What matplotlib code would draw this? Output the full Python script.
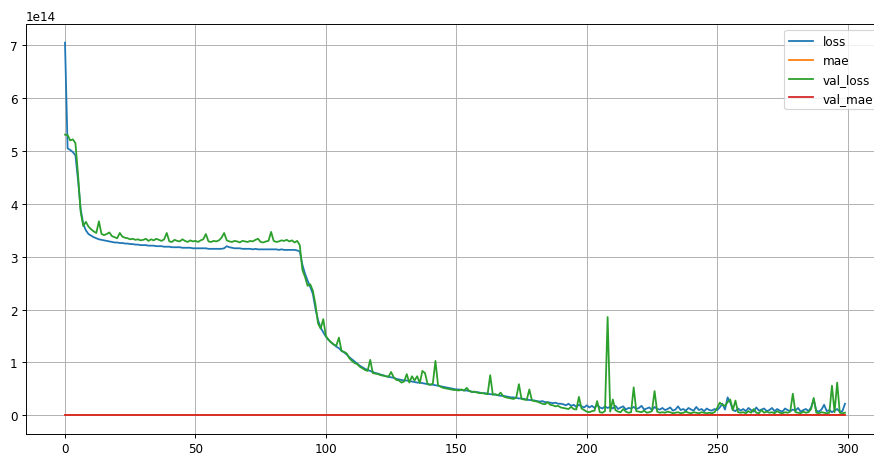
import numpy as np
import matplotlib.pyplot as plt

# training history, loss values in units of 1e14
loss = [
    7.05, 5.05, 5.02, 4.98, 4.92, 4.45, 3.90, 3.62, 3.50, 3.43,
    3.40, 3.37, 3.35, 3.33, 3.32, 3.31, 3.30, 3.29, 3.28, 3.27,
    3.27, 3.26, 3.26, 3.25, 3.25, 3.24, 3.24, 3.23, 3.23, 3.22,
    3.22, 3.22, 3.21, 3.21, 3.21, 3.20, 3.20, 3.20, 3.19, 3.19,
    3.19, 3.18, 3.18, 3.18, 3.18, 3.17, 3.17, 3.17, 3.17, 3.16,
    3.16, 3.16, 3.16, 3.16, 3.16, 3.15, 3.15, 3.15, 3.15, 3.15,
    3.15, 3.16, 3.20, 3.18, 3.17, 3.16, 3.16, 3.16, 3.15, 3.15,
    3.15, 3.15, 3.14, 3.15, 3.14, 3.14, 3.14, 3.14, 3.14, 3.14,
    3.14, 3.14, 3.13, 3.14, 3.13, 3.13, 3.13, 3.13, 3.13, 3.12,
    3.10, 2.85, 2.68, 2.55, 2.43, 2.30, 2.02, 1.80, 1.66, 1.57,
    1.49, 1.43, 1.38, 1.34, 1.30, 1.27, 1.22, 1.19, 1.15, 1.10,
    1.06, 1.02, 0.98, 0.94, 0.91, 0.88, 0.86, 0.84, 0.82, 0.80,
    0.79, 0.77, 0.76, 0.74, 0.73, 0.72, 0.71, 0.69, 0.68, 0.67,
    0.66, 0.66, 0.65, 0.64, 0.63, 0.62, 0.62, 0.61, 0.60, 0.59,
    0.58, 0.58, 0.57, 0.56, 0.55, 0.54, 0.53, 0.52, 0.51, 0.50,
    0.49, 0.49, 0.48, 0.47, 0.47, 0.46, 0.45, 0.44, 0.44, 0.43,
    0.42, 0.42, 0.41, 0.40, 0.40, 0.39, 0.38, 0.37, 0.37, 0.36,
    0.35, 0.34, 0.34, 0.33, 0.32, 0.32, 0.31, 0.30, 0.29, 0.29,
    0.28, 0.27, 0.26, 0.27, 0.25, 0.25, 0.24, 0.23, 0.24, 0.22,
    0.22, 0.21, 0.19, 0.22, 0.18, 0.20, 0.16, 0.20, 0.17, 0.15,
    0.19, 0.15, 0.18, 0.14, 0.20, 0.15, 0.13, 0.17, 0.14, 0.16,
    0.13, 0.18, 0.12, 0.15, 0.17, 0.11, 0.14, 0.13, 0.16, 0.12,
    0.14, 0.18, 0.11, 0.13, 0.15, 0.10, 0.16, 0.12, 0.11, 0.14,
    0.10, 0.12, 0.15, 0.09, 0.11, 0.17, 0.10, 0.12, 0.09, 0.14,
    0.11, 0.09, 0.16, 0.10, 0.12, 0.08, 0.13, 0.10, 0.09, 0.12,
    0.10, 0.15, 0.22, 0.11, 0.34, 0.25, 0.10, 0.08, 0.13, 0.09,
    0.12, 0.08, 0.14, 0.10, 0.07, 0.15, 0.09, 0.11, 0.13, 0.08,
    0.10, 0.14, 0.08, 0.12, 0.09, 0.07, 0.13, 0.10, 0.08, 0.11,
    0.09, 0.14, 0.07, 0.10, 0.12, 0.08, 0.15, 0.30, 0.09, 0.07,
    0.11, 0.20, 0.08, 0.10, 0.06, 0.09, 0.12, 0.07, 0.08, 0.22,
]

val_loss = [
    5.31, 5.30, 5.20, 5.22, 5.15, 4.55, 3.85, 3.58, 3.66, 3.57,
    3.52, 3.48, 3.45, 3.67, 3.43, 3.41, 3.43, 3.46, 3.39, 3.37,
    3.35, 3.45, 3.38, 3.36, 3.35, 3.33, 3.34, 3.32, 3.33, 3.31,
    3.32, 3.34, 3.30, 3.33, 3.31, 3.34, 3.32, 3.30, 3.33, 3.45,
    3.29, 3.28, 3.32, 3.30, 3.29, 3.33, 3.30, 3.28, 3.31, 3.29,
    3.30, 3.28, 3.31, 3.33, 3.43, 3.29, 3.28, 3.30, 3.29, 3.31,
    3.36, 3.45, 3.31, 3.29, 3.28, 3.30, 3.29, 3.27, 3.30, 3.29,
    3.28, 3.30, 3.29, 3.32, 3.34, 3.28, 3.27, 3.29, 3.30, 3.47,
    3.30, 3.28, 3.29, 3.31, 3.30, 3.32, 3.29, 3.31, 3.27, 3.30,
    3.22, 2.75, 2.62, 2.45, 2.48, 2.36, 2.10, 1.74, 1.64, 1.82,
    1.50, 1.43, 1.38, 1.34, 1.32, 1.47, 1.22, 1.20, 1.17, 1.08,
    1.03, 0.99, 0.97, 0.92, 0.89, 0.86, 0.84, 1.05, 0.80, 0.79,
    0.78, 0.76, 0.75, 0.74, 0.73, 0.82, 0.72, 0.67, 0.66, 0.62,
    0.64, 0.78, 0.62, 0.74, 0.66, 0.74, 0.61, 0.84, 0.80, 0.59,
    0.58, 0.60, 1.03, 0.57, 0.54, 0.52, 0.51, 0.50, 0.49, 0.48,
    0.48, 0.47, 0.49, 0.47, 0.52, 0.46, 0.44, 0.45, 0.43, 0.42,
    0.42, 0.41, 0.40, 0.76, 0.39, 0.40, 0.38, 0.43, 0.36, 0.34,
    0.33, 0.32, 0.31, 0.34, 0.59, 0.31, 0.30, 0.29, 0.49, 0.28,
    0.27, 0.26, 0.24, 0.22, 0.21, 0.25, 0.20, 0.19, 0.17, 0.18,
    0.15, 0.14, 0.13, 0.12, 0.16, 0.12, 0.11, 0.35, 0.13, 0.10,
    0.07, 0.06, 0.08, 0.09, 0.27, 0.06, 0.05, 0.08, 1.86, 0.07,
    0.30, 0.10, 0.07, 0.06, 0.12, 0.07, 0.05, 0.06, 0.53, 0.08,
    0.07, 0.06, 0.09, 0.05, 0.06, 0.08, 0.46, 0.07, 0.05, 0.06,
    0.05, 0.07, 0.06, 0.04, 0.05, 0.06, 0.04, 0.05, 0.07, 0.05,
    0.04, 0.06, 0.05, 0.04, 0.06, 0.05, 0.04, 0.05, 0.04, 0.06,
    0.14, 0.24, 0.20, 0.18, 0.25, 0.30, 0.10, 0.28, 0.06, 0.05,
    0.06, 0.04, 0.08, 0.05, 0.12, 0.05, 0.04, 0.10, 0.05, 0.07,
    0.05, 0.06, 0.04, 0.08, 0.05, 0.04, 0.06, 0.05, 0.07, 0.41,
    0.06, 0.05, 0.04, 0.07, 0.05, 0.06, 0.12, 0.33, 0.05, 0.04,
    0.06, 0.05, 0.04, 0.05, 0.56, 0.06, 0.62, 0.05, 0.04, 0.05,
]

# mae values in units of 1e6 (they sit flat on zero at this scale)
mae = [
    21, 17, 17, 17, 17, 16, 15, 14, 14, 14,
    14, 14, 14, 14, 14, 14, 14, 14, 14, 14,
    14, 14, 14, 14, 14, 14, 14, 14, 14, 14,
    14, 14, 14, 14, 14, 14, 14, 14, 14, 14,
    14, 14, 14, 14, 14, 14, 14, 14, 14, 14,
    14, 14, 14, 14, 14, 14, 14, 14, 14, 14,
    14, 14, 14, 14, 14, 14, 14, 14, 14, 14,
    14, 14, 14, 14, 14, 14, 14, 14, 14, 14,
    14, 14, 14, 14, 14, 14, 14, 14, 14, 14,
    14, 13, 13, 13, 12, 12, 12, 11, 11, 11,
    10, 10, 10, 10, 10, 10, 9, 9, 9, 9,
    9, 9, 9, 8, 8, 8, 8, 8, 8, 8,
    8, 8, 8, 8, 8, 8, 8, 7, 7, 7,
    7, 7, 7, 7, 7, 7, 7, 7, 7, 7,
    7, 7, 7, 7, 7, 7, 7, 7, 6, 6,
    6, 6, 6, 6, 6, 6, 6, 6, 6, 6,
    6, 6, 6, 6, 6, 6, 6, 6, 6, 5,
    5, 5, 5, 5, 5, 5, 5, 5, 5, 5,
    5, 5, 5, 5, 5, 5, 5, 5, 5, 5,
    4, 4, 4, 4, 4, 4, 4, 4, 4, 4,
    4, 4, 4, 4, 4, 4, 4, 4, 4, 4,
    4, 4, 4, 4, 4, 4, 4, 4, 4, 4,
    4, 4, 4, 4, 4, 4, 4, 4, 4, 4,
    3, 3, 4, 3, 3, 4, 3, 3, 3, 4,
    3, 3, 4, 3, 3, 3, 4, 3, 3, 3,
    3, 4, 4, 3, 5, 4, 3, 3, 3, 3,
    3, 3, 4, 3, 3, 4, 3, 3, 3, 3,
    3, 4, 3, 3, 3, 3, 3, 3, 3, 3,
    3, 4, 3, 3, 3, 3, 4, 5, 3, 3,
    3, 4, 3, 3, 3, 3, 3, 3, 3, 4,
]

val_mae = [
    18, 18, 18, 18, 18, 17, 15, 15, 15, 15,
    15, 15, 15, 15, 15, 15, 15, 15, 15, 15,
    15, 15, 15, 15, 15, 15, 15, 15, 15, 15,
    15, 15, 15, 15, 15, 15, 15, 15, 15, 15,
    15, 15, 15, 15, 15, 15, 15, 15, 15, 15,
    15, 15, 15, 15, 15, 15, 15, 15, 15, 15,
    15, 15, 15, 15, 15, 15, 15, 15, 15, 15,
    15, 15, 15, 15, 15, 15, 15, 15, 15, 15,
    15, 15, 15, 15, 15, 15, 15, 15, 15, 15,
    15, 13, 13, 13, 13, 12, 12, 11, 11, 11,
    10, 10, 10, 10, 10, 10, 9, 9, 9, 9,
    9, 9, 9, 8, 8, 8, 8, 9, 8, 8,
    8, 8, 8, 8, 8, 8, 8, 7, 7, 7,
    7, 8, 7, 7, 7, 7, 7, 8, 8, 7,
    7, 7, 9, 7, 7, 7, 7, 7, 6, 6,
    6, 6, 6, 6, 7, 6, 6, 6, 6, 6,
    6, 6, 6, 8, 6, 6, 6, 6, 6, 5,
    5, 5, 5, 5, 7, 5, 5, 5, 6, 5,
    5, 5, 5, 5, 5, 5, 5, 5, 4, 4,
    4, 4, 4, 4, 4, 4, 4, 5, 4, 4,
    3, 3, 3, 3, 4, 3, 3, 3, 11, 3,
    5, 3, 3, 3, 3, 3, 3, 3, 6, 3,
    3, 3, 3, 3, 3, 3, 6, 3, 3, 3,
    3, 3, 3, 2, 3, 3, 2, 3, 3, 3,
    2, 3, 3, 2, 3, 3, 2, 3, 2, 3,
    4, 4, 4, 4, 4, 5, 3, 5, 3, 3,
    3, 2, 3, 3, 3, 3, 2, 3, 3, 3,
    3, 3, 2, 3, 3, 2, 3, 3, 3, 6,
    3, 3, 2, 3, 3, 3, 3, 5, 3, 2,
    3, 3, 2, 3, 6, 3, 6, 3, 2, 3,
]

loss = np.array(loss) * 1e14
val_loss = np.array(val_loss) * 1e14
mae = np.array(mae) * 1e6
val_mae = np.array(val_mae) * 1e6

# the original text is a bit smaller than at 100 dpi, so render at 86 dpi
dpi = 86
fig = plt.figure(figsize=(874 / dpi, 455 / dpi), dpi=dpi)
# axes run a little past the right edge, like the cropped original
ax = fig.add_axes([26 / 874, 20 / 455, 858 / 874, 410 / 455])

ax.plot(loss, label='loss')
ax.plot(mae, label='mae')
ax.plot(val_loss, label='val_loss')
ax.plot(val_mae, label='val_mae')
ax.grid(True)
ax.legend(loc='upper right')

fig.savefig('out.png', dpi=dpi)
